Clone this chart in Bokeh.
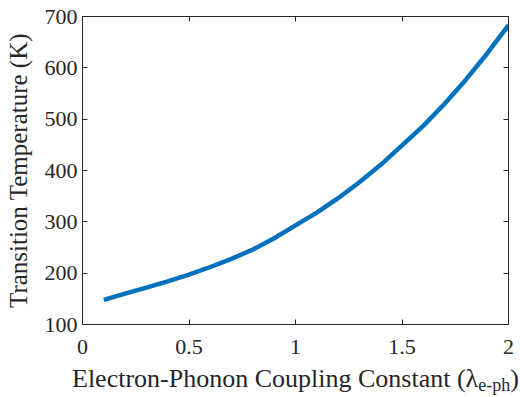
from bokeh.plotting import figure
from bokeh.models import LinearAxis, FixedTicker, Range1d, Div
from bokeh.layouts import column
from bokeh.embed import file_html
from bokeh.resources import INLINE

# Data
coupling = [0.1, 0.2, 0.3, 0.4, 0.5, 0.6, 0.7, 0.8, 0.9, 1.0,
            1.1, 1.2, 1.3, 1.4, 1.5, 1.6, 1.7, 1.8, 1.9, 2.0]
transition_temp = [148, 160, 172, 184, 197, 212, 228, 246, 268, 293,
                   318, 346, 377, 411, 449, 487, 530, 577, 628, 683]
x_ticks = [0, 0.5, 1, 1.5, 2]
x_tick_labels = ["0", "0.5", "1", "1.5", "2"]
y_ticks = [100, 200, 300, 400, 500, 600, 700]
x_label_main = "Electron-Phonon Coupling Constant (\u03bb"
x_label_sub = "e-ph"
y_label = "Transition Temperature (K)"

FONT = "'Liberation Serif'"
AX = "#262626"

p = figure(frame_width=426, frame_height=308,
           min_border_left=82, min_border_right=12, min_border_top=16, min_border_bottom=41,
           x_range=Range1d(0, 2), y_range=Range1d(100, 700),
           output_backend="svg", toolbar_location=None, background_fill_color="white",
           border_fill_color="white", outline_line_color=AX)
p.grid.visible = False

p.line(coupling, transition_temp, line_color="#0072BD", line_width=4.5)

xa = p.xaxis[0]
xa.ticker = FixedTicker(ticks=x_ticks)
xa.major_label_overrides = {t: l for t, l in zip(x_ticks, x_tick_labels)}
ya = p.yaxis[0]
ya.ticker = FixedTicker(ticks=y_ticks)
ya.axis_label = y_label

for ax in (xa, ya):
    ax.axis_line_color = AX
    ax.major_tick_line_color = AX
    ax.major_tick_in = 5
    ax.major_tick_out = 0
    ax.minor_tick_line_color = None
    ax.major_label_text_font = FONT
    ax.major_label_text_font_style = "normal"
    ax.major_label_text_font_size = "22px"
    ax.major_label_text_color = AX
    ax.axis_label_text_font = FONT
    ax.axis_label_text_font_size = "25px"
    ax.axis_label_text_font_style = "normal"
    ax.axis_label_text_color = AX
xa.major_label_standoff = 15
ya.major_label_standoff = 5
ya.axis_label_standoff = 10

# top and right box axes with ticks only
top = LinearAxis(ticker=FixedTicker(ticks=x_ticks))
right = LinearAxis(ticker=FixedTicker(ticks=y_ticks))
for ax in (top, right):
    ax.axis_line_color = AX
    ax.major_tick_line_color = AX
    ax.major_tick_in = 5
    ax.major_tick_out = 0
    ax.minor_tick_line_color = None
    ax.major_label_text_font_size = "1px"
    ax.major_label_text_color = None
    ax.major_label_standoff = 0
p.add_layout(top, "above")
p.add_layout(right, "right")

xlabel = Div(
    text=('<div style="font-family:\'Liberation Serif\';font-size:26px;line-height:18px;'
          'white-space:nowrap;color:%s;padding-left:67px;">%s'
          '<span style="font-size:18px;position:relative;top:4px;">%s</span>)</div>')
         % (AX, x_label_main, x_label_sub),
    width=520, height=32)

layout = column(p, xlabel, spacing=0)
open("out.html", "w").write(file_html(layout, INLINE))
